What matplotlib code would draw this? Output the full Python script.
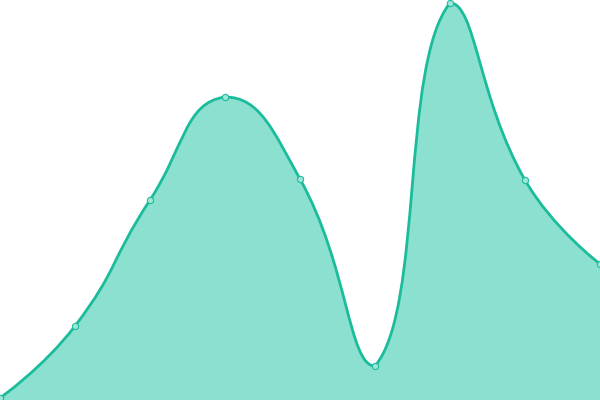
import numpy as np
import matplotlib
matplotlib.use("Agg")
import matplotlib.pyplot as plt
from matplotlib.path import Path
from matplotlib.patches import PathPatch

# values (value axis 0..400)
categories = ["1", "2", "3", "4", "5", "6", "7", "8", "9"]
values = [2, 74, 200, 303, 221, 34, 397, 220, 136]

line_color = "#1abc9c"
fill_color = "#8be0d0"
smooth = 0.5


def smooth_path(px, py):
    # echarts-like bezier smoothing, computed in pixel space
    n = len(px)
    verts = [(px[0], py[0])]
    codes = [Path.MOVETO]
    cp0x, cp0y = px[0], py[0]
    for i in range(1, n):
        x, y = px[i], py[i]
        if i == n - 1:
            cp1x, cp1y = x, y
            ncp0x, ncp0y = x, y
        else:
            prx, pry = px[i - 1], py[i - 1]
            nx, ny = px[i + 1], py[i + 1]
            vx, vy = nx - prx, ny - pry
            l0 = np.hypot(x - prx, y - pry)
            l1 = np.hypot(nx - x, ny - y)
            r = l1 / (l0 + l1)
            cp1x = x - vx * smooth * (1 - r)
            cp1y = y - vy * smooth * (1 - r)
            ncp0x = x + vx * smooth * r
            ncp0y = y + vy * smooth * r
            ncp0x = min(ncp0x, max(nx, x)); ncp0x = max(ncp0x, min(nx, x))
            ncp0y = min(ncp0y, max(ny, y)); ncp0y = max(ncp0y, min(ny, y))
            cp1x = min(cp1x, max(prx, x)); cp1x = max(cp1x, min(prx, x))
            cp1y = min(cp1y, max(pry, y)); cp1y = max(cp1y, min(pry, y))
        verts += [(cp0x, cp0y), (cp1x, cp1y), (x, y)]
        codes += [Path.CURVE4] * 3
        cp0x, cp0y = ncp0x, ncp0y
    return verts, codes


fig = plt.figure(figsize=(6, 4), dpi=100)
ax = fig.add_axes([0, 0, 1, 1])
ax.set_xlim(0, len(categories) - 1)
ax.set_ylim(0, 400)
ax.axis("off")

xs = np.arange(len(categories))
disp = ax.transData.transform(np.column_stack([xs, values]))
verts, codes = smooth_path(disp[:, 0], disp[:, 1])
inv = ax.transData.inverted()
verts = inv.transform(np.array(verts))

line_path = Path(verts, codes)
fill_verts = np.vstack([verts, [[xs[-1], 0], [xs[0], 0], [xs[0], values[0]]]])
fill_codes = codes + [Path.LINETO, Path.LINETO, Path.CLOSEPOLY]
ax.add_patch(PathPatch(Path(fill_verts, fill_codes), facecolor=fill_color,
                       edgecolor="none", zorder=1))
ax.add_patch(PathPatch(line_path, facecolor="none", edgecolor=line_color,
                       linewidth=2, zorder=2, clip_on=False))
ax.plot(xs, values, linestyle="none", marker="o", markersize=4.5,
        markerfacecolor="#9ee6d8", markeredgecolor=line_color,
        markeredgewidth=0.8, zorder=3, clip_on=False)

fig.savefig("out.png", dpi=100)
